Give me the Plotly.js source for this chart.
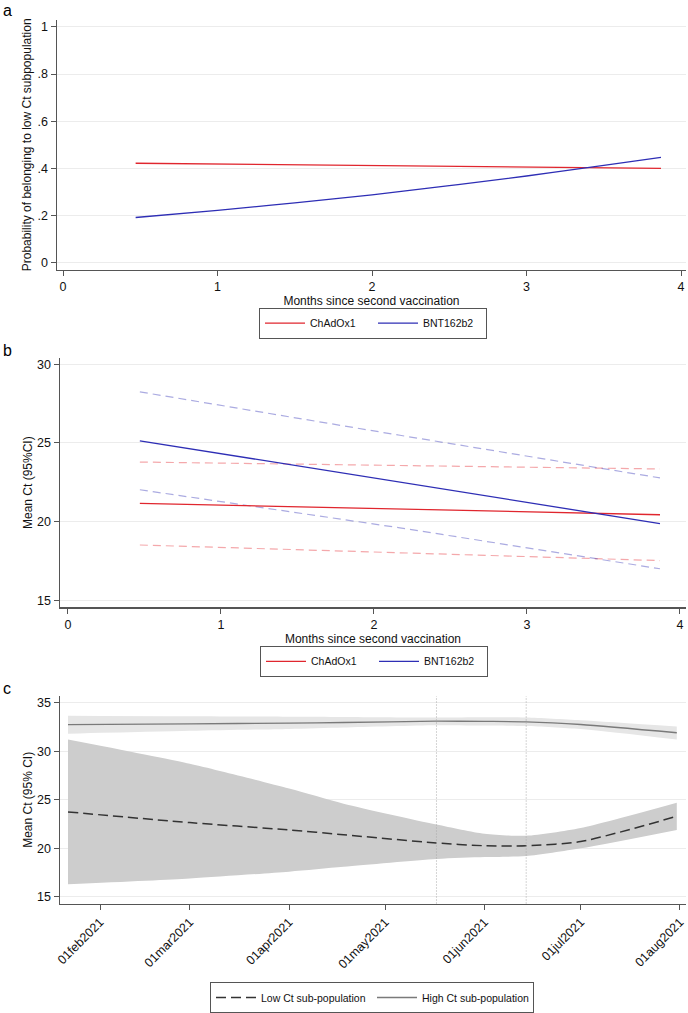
<!DOCTYPE html>
<html><head><meta charset="utf-8">
<script src="https://cdn.plot.ly/plotly-3.0.1.min.js"></script>
<style>html,body{margin:0;padding:0;background:#fff}#chart{width:688px;height:1013px}</style>
</head><body><div id="chart"></div>
<script>
// Panel a
const monthsA = [0.47, 1, 1.5, 2, 2.5, 3, 3.5, 3.87];
const probChAdOx1 = [0.422, 0.419, 0.416, 0.413, 0.409, 0.406, 0.403, 0.400];
const probBNT = [0.192, 0.222, 0.254, 0.288, 0.327, 0.368, 0.413, 0.447];
const yTicksA = [0, 0.2, 0.4, 0.6, 0.8, 1];
const yTickTextA = ['0', '.2', '.4', '.6', '.8', '1'];
// Panel b
const monthsB = [0.47, 2.17, 3.87];
const ctChAdOx1 = [21.16, 20.80, 20.43];
const ctChAdOx1Up = [23.78, 23.56, 23.34];
const ctChAdOx1Lo = [18.51, 18.02, 17.52];
const ctBNT = [25.13, 22.50, 19.87];
const ctBNTUp = [28.24, 25.48, 22.77];
const ctBNTLo = [22.02, 19.60, 17.00];
// Panel c
const datesC = ['2021-01-22','2021-03-01','2021-04-01','2021-04-18','2021-05-17','2021-06-01','2021-06-14','2021-07-01','2021-07-31'];
const lowCt = [23.75, 22.65, 21.9, 21.4, 20.55, 20.27, 20.27, 20.7, 23.3];
const lowCtUp = [31.2, 28.7, 26.15, 24.6, 22.45, 21.5, 21.3, 22.1, 24.7];
const lowCtLo = [16.3, 16.9, 17.6, 18.1, 18.9, 19.1, 19.2, 20.0, 21.9];
const highCt = [32.73, 32.82, 32.9, 32.96, 33.09, 33.07, 33.03, 32.75, 31.9];
const highCtUp = [33.65, 33.6, 33.55, 33.53, 33.47, 33.5, 33.47, 33.19, 32.55];
const highCtLo = [31.8, 32.1, 32.3, 32.45, 32.68, 32.65, 32.6, 32.28, 31.2];
const markerDates = ['2021-05-17', '2021-06-14'];
const dateTicks = ['2021-02-01','2021-03-01','2021-04-01','2021-05-01','2021-06-01','2021-07-01','2021-08-01'];
const dateTickText = ['01feb2021','01mar2021','01apr2021','01may2021','01jun2021','01jul2021','01aug2021'];

const RED = '#e0262e', BLUE = '#2e2eb5', REDL = 'rgba(227,38,46,0.4)', BLUEL = 'rgba(46,46,181,0.4)';
const FONT = 'Liberation Sans, Arial, sans-serif';
const H = 1013, W = 688;
const py = v => 1 - v / H, px = v => v / W;

const traces = [
  {x: monthsA, y: probChAdOx1, mode: 'lines', name: 'ChAdOx1', line: {color: RED, width: 1.3}, xaxis: 'x', yaxis: 'y', legend: 'legend'},
  {x: monthsA, y: probBNT, mode: 'lines', name: 'BNT162b2', line: {color: BLUE, width: 1.3, shape: 'spline'}, xaxis: 'x', yaxis: 'y', legend: 'legend'},

  {x: monthsB, y: ctChAdOx1Up, mode: 'lines', showlegend: false, line: {color: REDL, width: 1.2, dash: '8px,5px'}, xaxis: 'x2', yaxis: 'y2'},
  {x: monthsB, y: ctChAdOx1Lo, mode: 'lines', showlegend: false, line: {color: REDL, width: 1.2, dash: '8px,5px'}, xaxis: 'x2', yaxis: 'y2'},
  {x: monthsB, y: ctBNTUp, mode: 'lines', showlegend: false, line: {color: BLUEL, width: 1.2, dash: '8px,5px'}, xaxis: 'x2', yaxis: 'y2'},
  {x: monthsB, y: ctBNTLo, mode: 'lines', showlegend: false, line: {color: BLUEL, width: 1.2, dash: '8px,5px'}, xaxis: 'x2', yaxis: 'y2'},
  {x: monthsB, y: ctChAdOx1, mode: 'lines', name: 'ChAdOx1', line: {color: RED, width: 1.3}, xaxis: 'x2', yaxis: 'y2', legend: 'legend2'},
  {x: monthsB, y: ctBNT, mode: 'lines', name: 'BNT162b2', line: {color: BLUE, width: 1.3}, xaxis: 'x2', yaxis: 'y2', legend: 'legend2'},

  {x: datesC, y: lowCtLo, mode: 'lines', showlegend: false, line: {width: 0, shape: 'spline', smoothing: 0.7}, xaxis: 'x3', yaxis: 'y3'},
  {x: datesC, y: lowCtUp, mode: 'lines', showlegend: false, fill: 'tonexty', fillcolor: '#cdcdcd', line: {width: 0, shape: 'spline', smoothing: 0.7}, xaxis: 'x3', yaxis: 'y3'},
  {x: datesC, y: highCtLo, mode: 'lines', showlegend: false, line: {width: 0, shape: 'spline', smoothing: 0.7}, xaxis: 'x3', yaxis: 'y3'},
  {x: datesC, y: highCtUp, mode: 'lines', showlegend: false, fill: 'tonexty', fillcolor: '#e6e6e6', line: {width: 0, shape: 'spline', smoothing: 0.7}, xaxis: 'x3', yaxis: 'y3'},
  {x: datesC, y: lowCt, mode: 'lines', name: 'Low Ct sub-population', line: {color: '#333', width: 1.5, dash: '10px,5px', shape: 'spline', smoothing: 0.7}, xaxis: 'x3', yaxis: 'y3', legend: 'legend3'},
  {x: datesC, y: highCt, mode: 'lines', name: 'High Ct sub-population', line: {color: '#7a7a7a', width: 1.3, shape: 'spline', smoothing: 0.7}, xaxis: 'x3', yaxis: 'y3', legend: 'legend3'}
];

const axBase = {showline: true, linecolor: '#555', linewidth: 1.5, ticks: 'outside', ticklen: 5, tickcolor: '#555', tickwidth: 1,
  tickfont: {family: FONT, size: 12.5, color: '#111'}, zeroline: false, showgrid: false, fixedrange: true};
const yBase = Object.assign({}, axBase, {showgrid: true, gridcolor: '#ececec', gridwidth: 1});
const titleFont = {family: FONT, size: 12, color: '#111'};

const legBase = {orientation: 'h', bordercolor: '#555', borderwidth: 1, bgcolor: '#fff', font: {family: FONT, size: 10.5, color: '#111'},
  xanchor: 'center', yanchor: 'top', itemwidth: 40, entrywidth: 58, tracegroupgap: 0, traceorder: 'normal'};

const layout = {
  width: W, height: H, margin: {l: 0, r: 0, t: 0, b: 0}, paper_bgcolor: '#fff', plot_bgcolor: '#fff', showlegend: true,
  xaxis: Object.assign({}, axBase, {domain: [px(57), px(686)], range: [-0.039, 4.032], tickvals: [0, 1, 2, 3, 4], anchor: 'y',
    title: {text: 'Months since second vaccination', font: titleFont, standoff: 1}}),
  yaxis: Object.assign({}, yBase, {domain: [py(272), py(20)], range: [-0.03, 1.03], tickvals: yTicksA, ticktext: yTickTextA, anchor: 'x',
    title: {text: 'Probability of belonging to low Ct subpopulation', font: titleFont, standoff: 3}}),
  xaxis2: Object.assign({}, axBase, {domain: [px(60), px(686)], range: [-0.052, 4.04], tickvals: [0, 1, 2, 3, 4], anchor: 'y2',
    title: {text: 'Months since second vaccination', font: titleFont, standoff: 0}}),
  yaxis2: Object.assign({}, yBase, {domain: [py(612), py(361)], range: [14.56, 30.38], tickvals: [15, 20, 25, 30], anchor: 'x2',
    title: {text: 'Mean Ct (95%CI)', font: titleFont, standoff: 2}}),
  xaxis3: Object.assign({}, axBase, {type: 'date', domain: [px(60), px(686)], range: ['2021-01-19 12:00', '2021-08-02 21:00'], anchor: 'y3',
    tickvals: dateTicks, ticktext: dateTickText, tickangle: -45}),
  yaxis3: Object.assign({}, yBase, {domain: [py(910.7), py(701.7)], range: [14.32, 35.67], tickvals: [15, 20, 25, 30, 35], anchor: 'x3',
    title: {text: 'Mean Ct (95% CI)', font: titleFont, standoff: 2}}),
  legend: Object.assign({}, legBase, {x: px(373), y: py(310)}),
  legend2: Object.assign({}, legBase, {x: px(374), y: py(651)}),
  legend3: Object.assign({}, legBase, {x: px(372), y: py(990), entrywidth: 106}),
  shapes: markerDates.map(d => ({type: 'line', xref: 'x3', yref: 'y3 domain', x0: d, x1: d, y0: 0, y1: 1,
    line: {color: '#aaa', width: 1, dash: '1px,2px'}})),
  annotations: [
    {text: 'a', x: px(1), y: py(0), xref: 'paper', yref: 'paper', xanchor: 'left', yanchor: 'top', showarrow: false, font: {family: FONT, size: 16, color: '#000'}},
    {text: 'b', x: px(1), y: py(343), xref: 'paper', yref: 'paper', xanchor: 'left', yanchor: 'top', showarrow: false, font: {family: FONT, size: 16, color: '#000'}},
    {text: 'c', x: px(1), y: py(683), xref: 'paper', yref: 'paper', xanchor: 'left', yanchor: 'top', showarrow: false, font: {family: FONT, size: 16, color: '#000'}}
  ]
};

Plotly.newPlot('chart', traces, layout, {displayModeBar: false, staticPlot: true});
</script></body></html>
